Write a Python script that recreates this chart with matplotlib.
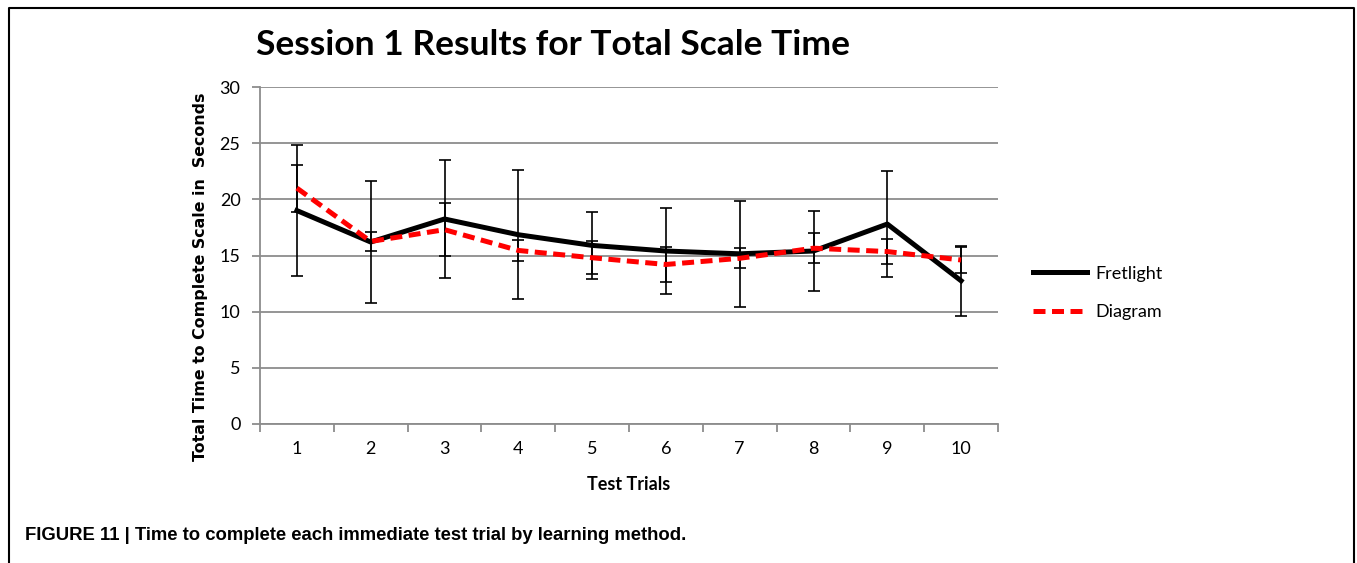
import numpy as np
import matplotlib.pyplot as plt
from matplotlib.lines import Line2D

# data
trials = [1, 2, 3, 4, 5, 6, 7, 8, 9, 10]
fretlight = [19.0, 16.2, 18.25, 16.85, 15.9, 15.4, 15.15, 15.4, 17.8, 12.75]
fretlight_err = [5.85, 5.45, 5.25, 5.75, 3.0, 3.8, 4.7, 3.6, 4.7, 3.1]
diagram = [21.0, 16.25, 17.3, 15.45, 14.8, 14.2, 14.75, 15.65, 15.35, 14.6]
diagram_err = [2.1, 0.85, 2.35, 0.9, 1.45, 1.6, 0.9, 1.35, 1.1, 1.2]

title_font = 'Lato'
grid_col = '#8c8c8c'
dash = (0, (2.4, 1.3))

fig = plt.figure(figsize=(13.57, 5.63), dpi=100)
ax = fig.add_axes([260 / 1357, 1 - 424 / 563, 738 / 1357, 337 / 563])

ax.set_ylim(0, 30)
ax.set_xlim(0.5, 10.5)
ax.set_yticks(range(0, 31, 5))
ax.yaxis.grid(True, color=grid_col, lw=1.3)
ax.set_axisbelow(True)

# category ticks sit between the trials, labels centred on them
ax.set_xticks(np.arange(0.5, 11, 1))
ax.set_xticklabels([])
ax.set_xticks(trials, minor=True)
ax.set_xticklabels([str(t) for t in trials], minor=True, fontsize=13, family=title_font)
ax.tick_params(axis='x', which='minor', length=0, pad=12)
ax.tick_params(axis='x', which='major', length=6, color=grid_col, width=1.3)
ax.tick_params(axis='y', length=6, color=grid_col, width=1.3, labelsize=13, pad=8)
for lab in ax.get_yticklabels():
    lab.set_family(title_font)

for s in ['top', 'right']:
    ax.spines[s].set_visible(False)
for s in ['left', 'bottom']:
    ax.spines[s].set_color(grid_col)
    ax.spines[s].set_linewidth(1.3)

# error bars
ax.errorbar(trials, fretlight, yerr=fretlight_err, fmt='none', ecolor='black',
            elinewidth=1.2, capsize=4, capthick=1.2, zorder=3)
ax.errorbar(trials, diagram, yerr=diagram_err, fmt='none', ecolor='black',
            elinewidth=1.2, capsize=4, capthick=1.2, zorder=3)

ax.plot(trials, fretlight, color='black', lw=3.6, label='Fretlight', zorder=4)
ax.plot(trials, diagram, color='#ff0000', lw=3.6, linestyle=dash, label='Diagram', zorder=5)

fig.legend(loc='center left', bbox_to_anchor=(1033 / 1357, 1 - 293 / 563), frameon=False,
           prop={'family': title_font, 'size': 13}, handlelength=3.0,
           handletextpad=0.45, labelspacing=1.25, borderpad=0, borderaxespad=0)

fig.text(553 / 1357, 1 - 45 / 563, 'Session 1 Results for Total Scale Time',
         ha='center', va='center', fontsize=25.5, fontweight='bold', family=title_font)
fig.text(201 / 1357, 1 - 277 / 563, 'Total Time to Complete Scale in  Seconds',
         rotation=90, ha='center', va='center', fontsize=11.4, fontweight='bold',
         family='DejaVu Sans')
fig.text(629 / 1357, 1 - 484 / 563, 'Test Trials', ha='center', va='center',
         fontsize=13, fontweight='bold', family=title_font)
fig.text(25 / 1357, 1 - 536 / 563,
         'FIGURE 11 | Time to complete each immediate test trial by learning method.',
         ha='left', va='center', fontsize=13.3, fontweight='bold', family='Liberation Sans')

# outer frame (open at the bottom)
fig.add_artist(Line2D([9 / 1357, 9 / 1357, 1354 / 1357, 1354 / 1357],
                      [0, 1 - 8 / 563, 1 - 8 / 563, 0],
                      transform=fig.transFigure, color='black', lw=1.5))

fig.savefig('out.png', dpi=100)
